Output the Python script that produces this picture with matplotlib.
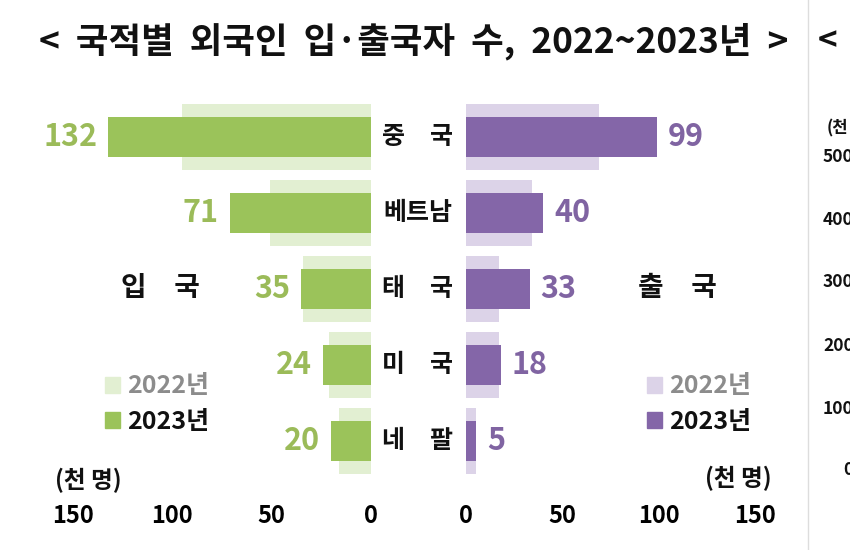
import matplotlib
matplotlib.use('Agg')
from matplotlib import pyplot as plt
from matplotlib.patches import Patch
from matplotlib.transforms import blended_transform_factory
import numpy as np

plt.rcParams['font.family'] = ['Noto Sans CJK KR', 'DejaVu Sans']

countries = ['중\u3000국', '베트남', '태\u3000국', '미\u3000국', '네\u3000팔']
entry_2022 = [95, 51, 34, 21, 16]
entry_2023 = [132, 71, 35, 24, 20]
exit_2022 = [69, 34, 17, 17, 5]
exit_2023 = [99, 40, 33, 18, 5]
ticks = [0, 50, 100, 150]

green_dark = '#9bc35a'
green_light = '#e2efd2'
green_text = '#9bbb59'
purple_dark = '#8466a8'
purple_light = '#dcd3e8'
purple_text = '#8064a2'

W, H = 850, 550
fig = plt.figure(figsize=(8.5, 5.5), dpi=100)

def px_axes(x0, x1, y0, y1):
    # pixel box -> figure fraction
    return fig.add_axes([x0 / W, 1 - y1 / H, (x1 - x0) / W, (y1 - y0) / H])

# rows at y = 137 + 76*i px; axes from 100 to 500 px
row0, step = 137, 76
top, bot = 100, 500
ylim = ((bot - row0) / step, (top - row0) / step)

ax_l = px_axes(72.5, 371, top, bot)
ax_r = px_axes(466, 755, top, bot)

y = np.arange(len(countries))
ax_l.barh(y, entry_2022, height=0.87, color=green_light)
ax_l.barh(y, entry_2023, height=0.53, color=green_dark)
ax_r.barh(y, exit_2022, height=0.87, color=purple_light)
ax_r.barh(y, exit_2023, height=0.53, color=purple_dark)

ax_l.set_xlim(150, 0)
ax_r.set_xlim(0, 150)
for ax in (ax_l, ax_r):
    ax.set_ylim(*ylim)
    ax.set_yticks([])
    ax.set_xticks(ticks)
    ax.set_xticklabels([str(t) for t in ticks], fontsize=17, fontweight='bold')
    ax.tick_params(axis='x', length=0, pad=3)
    for s in ax.spines.values():
        s.set_visible(False)
    ax.patch.set_alpha(0)

for i, v in enumerate(entry_2023):
    ax_l.annotate(str(v), (v, i), xytext=(-8, 0), textcoords='offset points',
                  ha='right', va='center', fontsize=22, fontweight='bold', color=green_text)
for i, v in enumerate(exit_2023):
    ax_r.annotate(str(v), (v, i), xytext=(8, 0), textcoords='offset points',
                  ha='left', va='center', fontsize=22, fontweight='bold', color=purple_text)

trans = blended_transform_factory(fig.transFigure, ax_l.transData)
for i, c in enumerate(countries):
    ax_l.text(418 / W, i, c, transform=trans, ha='center', va='center',
              fontsize=18, fontweight='bold', color='#111111')

# title
fig.text(414 / W, 1 - 41 / H, '<  국적별  외국인  입·출국자  수,  2022~2023년  >',
         ha='center', va='center', fontsize=25.5, fontweight='bold', color='#111111')

# side labels
fig.text(160 / W, 1 - 288 / H, '입\u3000국', ha='center', va='center',
         fontsize=20, fontweight='bold', color='#111111')
fig.text(677 / W, 1 - 288 / H, '출\u3000국', ha='center', va='center',
         fontsize=20, fontweight='bold', color='#111111')
fig.text(88 / W, 1 - 480 / H, '(천 명)', ha='center', va='center',
         fontsize=17, fontweight='bold', color='#111111')
fig.text(738 / W, 1 - 478 / H, '(천 명)', ha='center', va='center',
         fontsize=17, fontweight='bold', color='#111111')

# legends
def add_legend(x, ylab, light, dark):
    handles = [Patch(color=light), Patch(color=dark)]
    leg = fig.legend(handles, ['2022년', '2023년'], loc='center left',
                     bbox_to_anchor=(x / W, 1 - ylab / H), frameon=False,
                     handlelength=0.6, handleheight=0.6, handletextpad=0.3,
                     labelspacing=0.45, prop={'size': 18, 'weight': 'bold'})
    leg.get_texts()[0].set_color('#8c8c8c')
    leg.get_texts()[1].set_color('#111111')

add_legend(82, 404, green_light, green_dark)
add_legend(624, 404, purple_light, purple_dark)

# neighbouring chart, cut off at the right edge
fig.add_artist(plt.Line2D([808 / W, 808 / W], [0, 1], color='#dddddd', lw=1))
fig.text(818 / W, 1 - 42 / H, '<', ha='left', va='center', fontsize=24,
         fontweight='bold', color='#111111')
fig.text(827 / W, 1 - 128 / H, '(천', ha='left', va='center', fontsize=12,
         fontweight='bold', color='#111111')
for lab, yy in zip(['500', '400', '300', '200', '100'], [157, 220, 282, 346, 409]):
    fig.text(823 / W, 1 - yy / H, lab, ha='left', va='center', fontsize=12.5,
             fontweight='bold', color='#111111')
fig.text(843 / W, 1 - 470 / H, '0', ha='left', va='center', fontsize=12.5,
         fontweight='bold', color='#111111')

fig.savefig('out.png', dpi=100, facecolor='white')
